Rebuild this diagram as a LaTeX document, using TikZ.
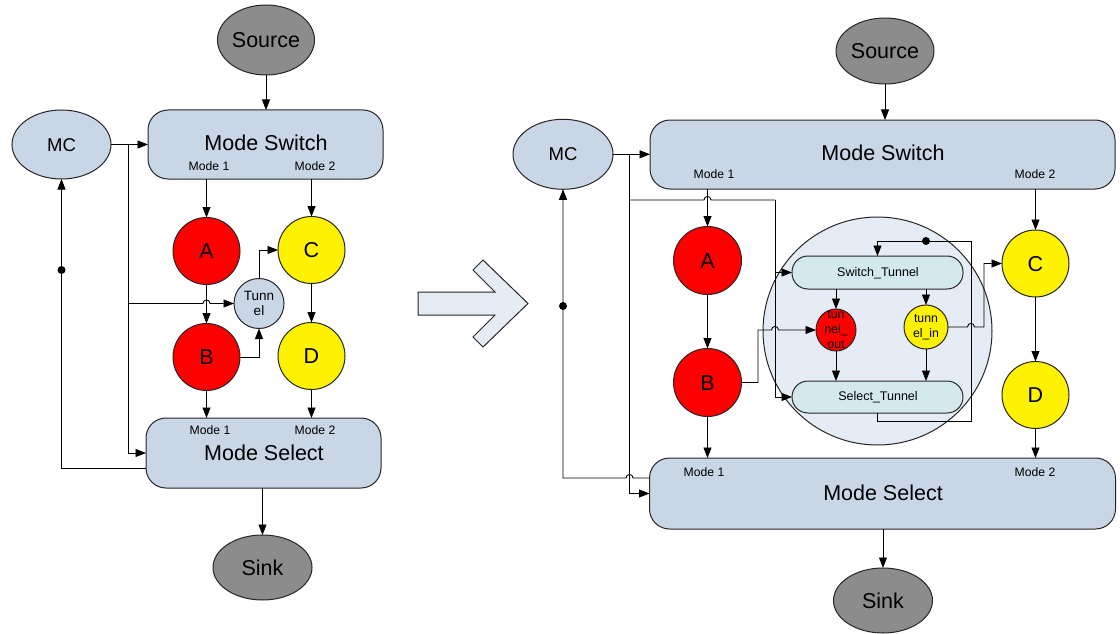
\documentclass[tikz,border=0pt]{standalone}
\usepackage{fontspec}
\setmainfont{Liberation Sans}
\usetikzlibrary{arrows.meta,calc,shapes.geometric}
\definecolor{boxfill}{RGB}{200,214,230}
\definecolor{grayfill}{RGB}{140,140,140}
\definecolor{bigfill}{RGB}{230,236,246}
\definecolor{tunfill}{RGB}{211,233,238}
\definecolor{edgec}{RGB}{38,38,38}
\begin{document}
\begin{tikzpicture}[x=1pt,y=-1pt,
  every node/.style={inner sep=0pt,outer sep=0pt},
  shp/.style={draw=edgec,line width=1pt},
  oval/.style={shp,ellipse},
  modebox/.style={shp,rectangle,rounded corners=20pt,fill=boxfill},
  tunbox/.style={shp,rectangle,rounded corners=16pt,fill=tunfill},
  conn/.style={draw=black,line width=0.9pt},
  arr/.style={conn,-{Triangle[length=10.5pt,width=8pt]}},
  big/.style={font=\fontsize{21.5}{25}\selectfont,text height=15.4pt,text depth=0pt},
  mid/.style={font=\fontsize{18.5}{22}\selectfont,text height=13.3pt,text depth=0pt},
  small/.style={font=\fontsize{12.2}{14}\selectfont,text height=8.8pt,text depth=0pt},
  inner/.style={font=\fontsize{12.5}{15}\selectfont,text height=9pt,text depth=0pt},
  tiny/.style={font=\fontsize{12.3}{15}\selectfont,align=center},
  dot/.style={circle,fill=black,minimum size=8pt},
]
\useasboundingbox (0,0) rectangle (1120,634);

% ---------------- left diagram ----------------
\node[oval,fill=grayfill,minimum width=97pt,minimum height=70pt] (srcL) at (266,40) {};
\node[big] (srcLt) at (266,40) {Source};
\node[modebox,minimum width=235pt,minimum height=69pt] (msL) at (265.5,144.5) {};
\node[big] (msLt) at (266,143) {Mode Switch};
\node[small] (msL1) at (209,166) {Mode 1};
\node[small] (msL2) at (315,166) {Mode 2};
\node[oval,fill=boxfill,minimum width=99pt,minimum height=69pt] (mcL) at (61.5,144.5) {};
\node[mid] (mcLt) at (61.5,144.5) {MC};
\node[shp,circle,fill=red,minimum size=67pt] (AL) at (206.5,251) {};
\node[big] (ALt) at (206.5,251) {A};
\node[shp,circle,fill=red,minimum size=67pt] (BL) at (206.5,357) {};
\node[big] (BLt) at (206.5,357) {B};
\node[shp,circle,fill=yellow,minimum size=67pt] (CL) at (311.5,250) {};
\node[big] (CLt) at (311.5,250) {C};
\node[shp,circle,fill=yellow,minimum size=67pt] (DL) at (311.5,356) {};
\node[big] (DLt) at (311.5,356) {D};
\node[shp,circle,fill=boxfill,minimum size=50pt] (tunL) at (259,303.5) {};
\node[font=\fontsize{13.5}{15}\selectfont,align=center] (tunLt) at (259,303.5) {Tunn\\el};
\node[modebox,minimum width=235pt,minimum height=70pt] (mselL) at (263.5,453) {};
\node[big] (mselLt) at (264,453) {Mode Select};
\node[small] (mselL1) at (210,430) {Mode 1};
\node[small] (mselL2) at (315,430) {Mode 2};
\node[oval,fill=grayfill,minimum width=99pt,minimum height=65pt] (sinkL) at (262.5,567.5) {};
\node[big] (sinkLt) at (262.5,567.5) {Sink};
\node[dot] (dotL) at (61.5,270) {};
\coordinate (jL) at (128,144.5);
\coordinate (jL2) at (128,303.5);

\draw[arr] (srcL) -- (srcL |- msL.north);
\draw[arr] (mcL) -- (msL);
\draw[arr] (jL) |- (mselL);
\draw[arr] (jL2) -- ($(AL |- jL2)+(-3.5,0)$) .. controls +(0,-4.7) and +(0,-4.7) .. ($(AL |- jL2)+(3.5,0)$) -- (tunL);
\draw[arr] (AL |- msL.south) -- (AL);
\draw[arr] (CL |- msL.south) -- (CL);
\draw[arr] (AL) -- (BL);
\draw[arr] (CL) -- (DL);
\draw[arr] (BL) -| (tunL);
\draw[arr] (tunL) |- (CL);
\draw[arr] (BL) -- (BL |- mselL.north);
\draw[arr] (DL) -- (DL |- mselL.north);
\draw[arr] ($(mselL.west)+(0,15)$) -| (mcL);
\draw[arr] (sinkL |- mselL.south) -- (sinkL);

% ---------------- big arrow ----------------
\draw[shp,fill=bigfill,line join=miter] (418,292) -- (495,292) -- (473,270) -- (483,260) -- (528,303.5) -- (483,347) -- (473,337) -- (495,315) -- (418,315) -- cycle;

% ---------------- right diagram ----------------
\node[oval,fill=grayfill,minimum width=98pt,minimum height=66pt] (srcR) at (885,51) {};
\node[big] (srcRt) at (885,51) {Source};
\node[modebox,minimum width=465pt,minimum height=69pt] (msR) at (882.5,154.5) {};
\node[big] (msRt) at (883,153) {Mode Switch};
\node[small] (msR1) at (714,174) {Mode 1};
\node[small] (msR2) at (1035,174) {Mode 2};
\node[oval,fill=boxfill,minimum width=100pt,minimum height=70pt] (mcR) at (563,154.3) {};
\node[mid] (mcRt) at (563,154) {MC};
\node[shp,ellipse,fill=bigfill,minimum width=229pt,minimum height=228pt] (bigR) at (877.5,331) {};
\node[shp,circle,fill=red,minimum size=68pt] (AR) at (707.5,260.5) {};
\node[big] (ARt) at (707.5,260.5) {A};
\node[shp,circle,fill=red,minimum size=68pt] (BR) at (707.5,382.5) {};
\node[big] (BRt) at (707.5,382.5) {B};
\node[shp,circle,fill=yellow,minimum size=67pt] (CR) at (1035.5,263.5) {};
\node[big] (CRt) at (1035.5,263.5) {C};
\node[shp,circle,fill=yellow,minimum size=67pt] (DR) at (1035.5,395) {};
\node[big] (DRt) at (1035.5,395) {D};
\node[tunbox,minimum width=171pt,minimum height=33pt] (swT) at (877.5,272.5) {};
\node[inner] (swTt) at (878,272) {Switch\_Tunnel};
\node[tunbox,minimum width=171pt,minimum height=32pt] (seT) at (877.5,397) {};
\node[inner] (seTt) at (878,396) {Select\_Tunnel};
\node[shp,ellipse,fill=red,minimum width=40pt,minimum height=42pt] (tOut) at (836,330) {};
\node[tiny] (tOutt) at (836,330) {tun\\nel\_\\out};
\node[shp,circle,fill=yellow,minimum size=44pt] (tIn) at (926,327) {};
\node[font=\fontsize{12.3}{14.5}\selectfont,align=center] (tInt) at (926,327) {tunn\\el\_in};
\node[modebox,minimum width=466pt,minimum height=71pt] (mselR) at (882.5,493.5) {};
\node[big] (mselRt) at (883,492.7) {Mode Select};
\node[small] (mselR1) at (704,472) {Mode 1};
\node[small] (mselR2) at (1035,472) {Mode 2};
\node[oval,fill=grayfill,minimum width=99pt,minimum height=65pt] (sinkR) at (883,600.5) {};
\node[big] (sinkRt) at (883,600.5) {Sink};
\node[dot] (dotR) at (563,306) {};
\node[dot] (dotR2) at (926,241) {};
\coordinate (jR) at (629.5,154.3);
\coordinate (jR2) at (629.5,200);
\coordinate (kR) at (775,200);
\coordinate (bxR) at (758,330);
\coordinate (lp1) at (971,421);
\coordinate (lp2) at (971,241);
\coordinate (cxR) at (984,263.5);

\draw[arr] (srcR) -- (srcR |- msR.north);
\draw[arr] (mcR.east) -- (mcR.east -| msR.west);
\draw[arr] (jR) |- (mselR);
\draw[conn] (jR2) -- ($(AR |- jR2)+(-3.5,0)$) .. controls +(0,-4.7) and +(0,-4.7) .. ($(AR |- jR2)+(3.5,0)$) -- (kR);
\draw[arr] (kR) |- (swT);
\draw[arr] (kR) |- (seT);
\draw[arr] (AR |- msR.south) -- (AR);
\draw[arr] (CR |- msR.south) -- (CR);
\draw[arr] (AR) -- (BR);
\draw[arr] (CR) -- (DR);
\draw[arr] (BR) -- (BR |- mselR.north);
\draw[arr] (DR) -- (DR |- mselR.north);
\draw[arr] (BR) -| (bxR) -- ($(kR |- bxR)+(-3.5,0)$) .. controls +(0,-4.7) and +(0,-4.7) .. ($(kR |- bxR)+(3.5,0)$) -- (tOut);
\draw[arr] (tOut |- swT.south) -- (tOut);
\draw[arr] (tIn |- swT.south) -- (tIn);
\draw[arr] (tOut) -- (tOut |- seT.north);
\draw[arr] (tIn) -- (tIn |- seT.north);
\draw[arr] (seT.south) |- (lp1) -- (lp2) -| (swT.north);
\draw[arr] (tIn) -- ($(lp1 |- tIn)+(-3.5,0)$) .. controls +(0,-4.7) and +(0,-4.7) .. ($(lp1 |- tIn)+(3.5,0)$) -| (cxR) -- (CR);
\draw[arr] ($(mselR.west)+(0,-15.5)$) -- ($(jR |- mselR.west)+(3.5,-15.5)$) .. controls +(0,-4.7) and +(0,-4.7) .. ($(jR |- mselR.west)+(-3.5,-15.5)$) -| (mcR);
\draw[arr] (sinkR |- mselR.south) -- (sinkR);
\end{tikzpicture}
\end{document}
